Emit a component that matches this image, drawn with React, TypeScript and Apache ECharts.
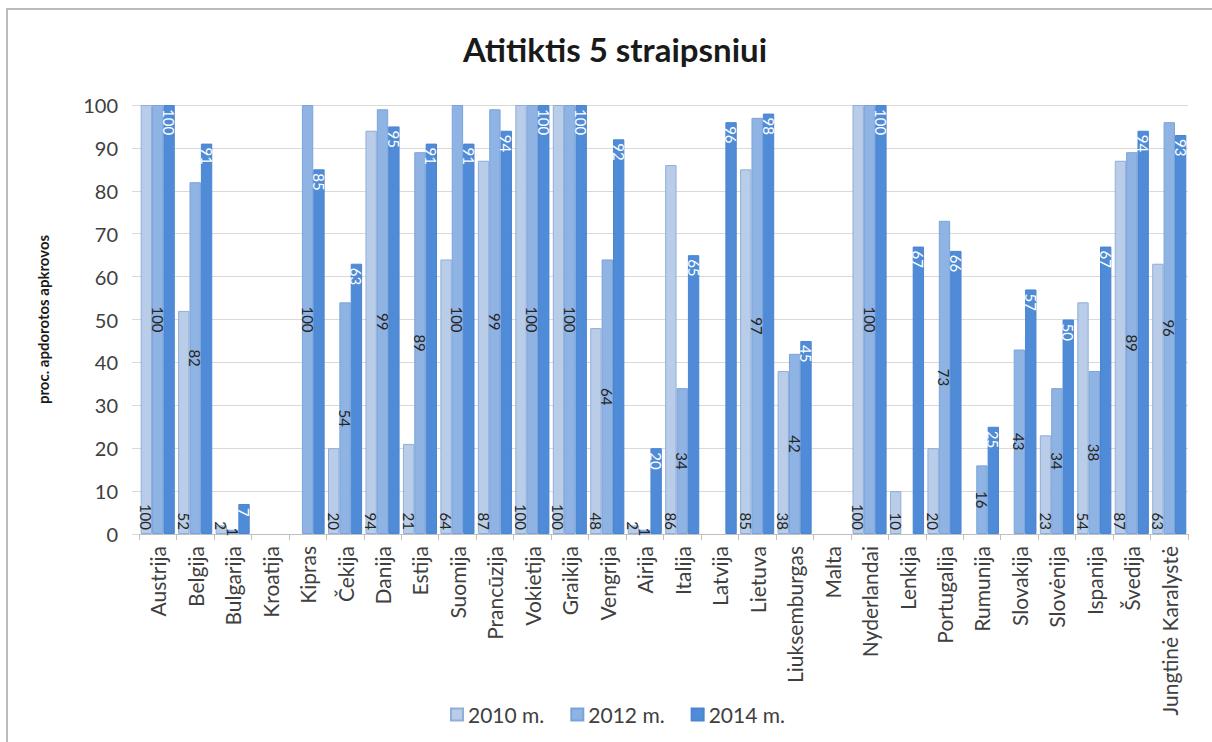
import React, { useEffect, useRef } from "react";
import * as echarts from "echarts";

const categories = [
  "Austrija", "Belgija", "Bulgarija", "Kroatija", "Kipras", "Čekija", "Danija", "Estija",
  "Suomija", "Prancūzija", "Vokietija", "Graikija", "Vengrija", "Airija", "Italija", "Latvija",
  "Lietuva", "Liuksemburgas", "Malta", "Nyderlandai", "Lenkija", "Portugalija", "Rumunija",
  "Slovakija", "Slovėnija", "Ispanija", "Švedija", "Jungtinė Karalystė",
];
const seriesNames = ["2010 m.", "2012 m.", "2014 m."];
const y2010 = [100, 52, 2, null, null, 20, 94, 21, 64, 87, 100, 100, 48, 2, 86, null, 85, 38, null, 100, 10, 20, null, null, 23, 54, 87, 63];
const y2012 = [100, 82, 1, null, 100, 54, 99, 89, 100, 99, 100, 100, 64, 1, 34, null, 97, 42, null, 100, null, 73, 16, 43, 34, 38, 89, 96];
const y2014 = [100, 91, 7, null, 85, 63, 95, 91, 91, 94, 100, 100, 92, 20, 65, 96, 98, 45, null, 100, 67, 66, 25, 57, 50, 67, 94, 93];
const yTicks = { min: 0, max: 100, interval: 10 };

const FONT = "Lato, 'Open Sans', sans-serif";

export default function App() {
  const ref = useRef<HTMLDivElement>(null);
  useEffect(() => {
    document.body.style.margin = "0";
    const chart = echarts.init(ref.current!, null, { renderer: "svg" });
    const fills = ["#b9cde8", "#8fb3e2", "#4f8bd6"];
    const borders = ["#8eaedb", "#7aa3dc", "#4a85d2"];
    const labelCfg = [
      { position: "insideBottom", align: "right", color: "#262626", distance: 4 },
      { position: "inside", align: "center", color: "#262626", distance: 0 },
      { position: "insideTop", align: "left", color: "#ffffff", distance: 4 },
    ];
    const datasets = [y2010, y2012, y2014];
    chart.setOption({
      animation: false,
      backgroundColor: "#ffffff",
      textStyle: { fontFamily: FONT },
      title: {
        text: "Atitiktis 5 straipsniui",
        left: 610,
        top: 27,
        textAlign: "center",
        textStyle: { fontFamily: FONT, fontSize: 33, fontWeight: "bold", color: "#1a1a1a" },
      },
      graphic: [
        {
          type: "rect",
          shape: { x: 7, y: 9, width: 1230, height: 760 },
          style: { fill: "none", stroke: "#a6a6a6", lineWidth: 1.5 },
          silent: true,
          z: -1,
        },
      ],
      legend: {
        data: seriesNames,
        left: 445,
        top: 699,
        itemWidth: 12,
        itemHeight: 12,
        itemGap: 26,
        icon: "rect",
        textStyle: { fontFamily: FONT, fontSize: 21, color: "#404040" },
      },
      grid: { left: 139, right: 24, top: 105, bottom: 208, containLabel: false },
      xAxis: {
        type: "category",
        data: categories,
        axisLine: { show: true, lineStyle: { color: "#bfbfbf", width: 1 } },
        axisTick: { show: true, length: 6, alignWithLabel: false, lineStyle: { color: "#bfbfbf" } },
        axisLabel: {
          interval: 0,
          rotate: 90,
          margin: 12,
          fontFamily: FONT,
          fontSize: 21,
          color: "#404040",
        },
      },
      yAxis: {
        type: "value",
        min: yTicks.min,
        max: yTicks.max,
        interval: yTicks.interval,
        name: "proc. apdorotos apkrovos",
        nameLocation: "middle",
        nameGap: 89,
        nameTextStyle: { fontFamily: FONT, fontSize: 15, fontWeight: "bold", color: "#1a1a1a" },
        axisLine: { show: false },
        axisTick: { show: true, length: 7, inside: false, lineStyle: { color: "#d9d9d9" } },
        splitLine: { lineStyle: { color: "#d9d9d9", width: 1 } },
        axisLabel: { margin: 21, fontFamily: FONT, fontSize: 20, color: "#404040" },
      },
      series: datasets.map((d, i) => ({
        name: seriesNames[i],
        type: "bar",
        data: d,
        barGap: "0%",
        barCategoryGap: "9%",
        itemStyle: { color: fills[i], borderColor: borders[i], borderWidth: 1 },
        label: {
          show: true,
          position: labelCfg[i].position,
          rotate: -90,
          align: labelCfg[i].align,
          verticalAlign: "middle",
          distance: labelCfg[i].distance,
          fontFamily: FONT,
          fontSize: 15,
          color: labelCfg[i].color,
        },
      })),
    });
    return () => chart.dispose();
  }, []);
  return <div ref={ref} style={{ position: "absolute", left: 0, top: 0, width: 1212, height: 742 }} />;
}
